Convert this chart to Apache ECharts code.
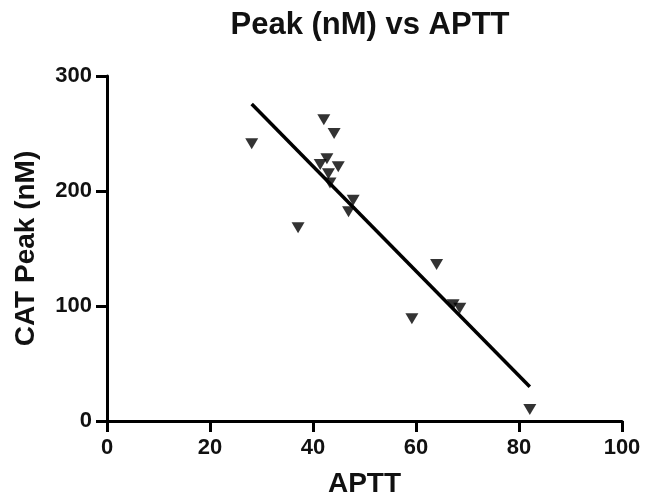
<!DOCTYPE html>
<html>
<head>
<meta charset="utf-8">
<script src="https://cdn.jsdelivr.net/npm/echarts@6/dist/echarts.min.js"></script>
<style>html,body{margin:0;padding:0;background:#fff}#c{width:646px;height:503px}</style>
</head>
<body>
<div id="c"></div>
<script>
const titleText = "Peak (nM) vs APTT";
const xName = "APTT";
const yName = "CAT Peak (nM)";
const xTicks = [0, 20, 40, 60, 80, 100];
const yTicks = [0, 100, 200, 300];
const aptt = [28.1, 42.1, 44.1, 42.7, 41.4, 44.9, 43.0, 43.3, 47.8, 46.9, 37.1, 64.0, 67.2, 68.5, 59.2, 82.1];
const peak = [241, 262, 250, 228, 223, 221, 215, 207, 192, 182, 168, 136, 101, 98, 89, 10];
const fitX = [28.1, 82.1];
const fitY = [275.7, 29.8];

const font = "'Liberation Sans', Arial, sans-serif";
const chart = echarts.init(document.getElementById('c'), null, {renderer: 'canvas'});
const axisCommon = {
  axisLine: {show: true, onZero: false, lineStyle: {color: '#000', width: 3}},
  axisTick: {show: true, inside: false, length: 11, lineStyle: {color: '#000', width: 3}},
  splitLine: {show: false},
  axisLabel: {color: '#111', fontFamily: font, fontWeight: 'bold', fontSize: 22},
  nameTextStyle: {color: '#111', fontFamily: font, fontWeight: 'bold', fontSize: 28}
};
chart.setOption({
  animation: false,
  backgroundColor: '#fff',
  title: {
    text: titleText, left: 365, top: 5, textAlign: 'center',
    textStyle: {color: '#111', fontFamily: font, fontWeight: 'bold', fontSize: 31}
  },
  grid: {left: 107, right: 24, top: 76, bottom: 82, containLabel: false, outerBoundsMode: 'none'},
  xAxis: Object.assign({}, axisCommon, {
    type: 'value', min: xTicks[0], max: xTicks[xTicks.length - 1], interval: 20,
    name: xName, nameLocation: 'middle', nameGap: 49,
    axisLabel: Object.assign({}, axisCommon.axisLabel, {margin: 16})
  }),
  yAxis: Object.assign({}, axisCommon, {
    type: 'value', min: yTicks[0], max: yTicks[yTicks.length - 1], interval: 100,
    name: yName, nameLocation: 'middle', nameGap: 67,
    axisLabel: Object.assign({}, axisCommon.axisLabel, {margin: 15})
  }),
  series: [
    {
      type: 'line', data: fitX.map((x, i) => [x, fitY[i]]),
      showSymbol: false, symbol: 'none',
      lineStyle: {color: '#000', width: 3.5}, z: 2
    },
    {
      type: 'scatter', data: aptt.map((x, i) => [x, peak[i]]),
      symbol: 'triangle', symbolRotate: 180, symbolSize: [13, 11],
      itemStyle: {color: '#000'}, z: 3
    }
  ]
});
</script>
</body>
</html>
